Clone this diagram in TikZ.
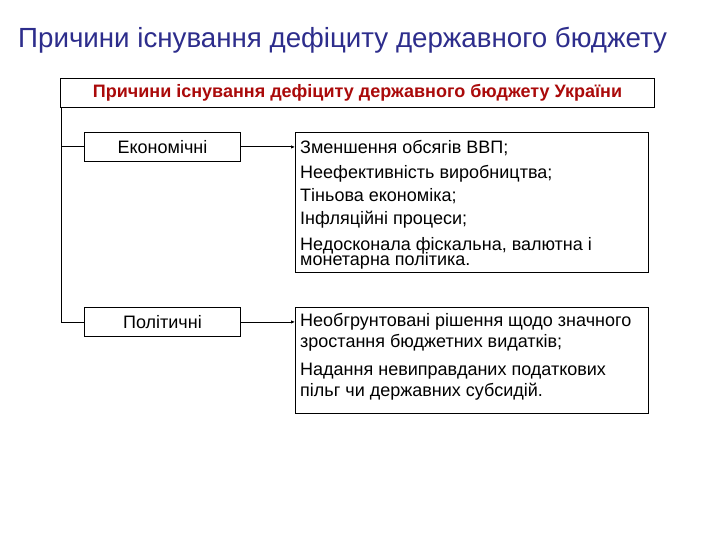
\documentclass[tikz,border=0pt]{standalone}
\usepackage{fontspec}
\setmainfont{Liberation Sans}
\usetikzlibrary{arrows.meta}
\definecolor{titleblue}{RGB}{45,45,140}
\definecolor{hdrred}{RGB}{170,10,10}
\newcommand\myTightFont{\fontsize{18}{14.5}\selectfont\lineskiplimit=-30pt\lineskip=0pt\relax}
\begin{document}
\begin{tikzpicture}[x=1pt,y=-1pt,
  box/.style={draw,line width=0.9pt,inner sep=0pt,anchor=north west},
  txt/.style={anchor=base west,inner sep=0pt,align=left,font=\myTightFont},
  conn/.style={line width=0.9pt},
  arr/.style={line width=0.9pt,-{Latex[length=4pt,width=3.5pt]}}]
\useasboundingbox[fill=white] (0,0) rectangle (720,540);
\node[anchor=base west,inner sep=0pt,text=titleblue,font=\fontsize{27.7}{30}\selectfont] (title) at (18,48) {Причини існування дефіциту державного бюджету};
\node[box,minimum width=594pt,minimum height=29pt,text=hdrred,font=\fontsize{18}{20}\selectfont\bfseries] (hdr) at (60,78) {Причини існування дефіциту державного бюджету України};
\node[box,minimum width=156pt,minimum height=29pt,font=\fontsize{18}{20}\selectfont] (econ) at (84,132) {Економічні};
\node[box,minimum width=156pt,minimum height=29pt,font=\fontsize{18}{20}\selectfont] (pol) at (84,307) {Політичні};
\node[box,minimum width=353pt,minimum height=140pt] (b1) at (295,132.3) {};
\node[box,minimum width=353pt,minimum height=106.5pt] (b2) at (295,306.7) {};
\coordinate (vtop) at ([xshift=1pt]hdr.south west);
\draw[conn] (vtop) |- (pol.west);
\draw[conn] (econ.west) -- (econ.west -| vtop);
\draw[arr] (econ.east) -- (econ.east -| b1.west);
\draw[arr] (pol.east) -- (pol.east -| b2.west);
\node[txt] (l1) at (300,153.3) {Зменшення обсягів ВВП;};
\node[txt] (l2) at (300,178.3) {Неефективність виробництва;};
\node[txt] (l3) at (300,201.7) {Тіньова економіка;};
\node[txt] (l4) at (300,225) {Інфляційні процеси;};
\node[txt] (l5) at (300,265) {Недосконала фіскальна, валютна і\\монетарна політика.};
\node[txt] (m1) at (300,326.7) {Необгрунтовані рішення щодо значного};
\node[txt] (m2) at (300,347) {зростання бюджетних видатків;};
\node[txt] (m3) at (300,375) {Надання невиправданих податкових};
\node[txt] (m4) at (300,396.7) {пільг чи державних субсидій.};
\end{tikzpicture}
\end{document}
